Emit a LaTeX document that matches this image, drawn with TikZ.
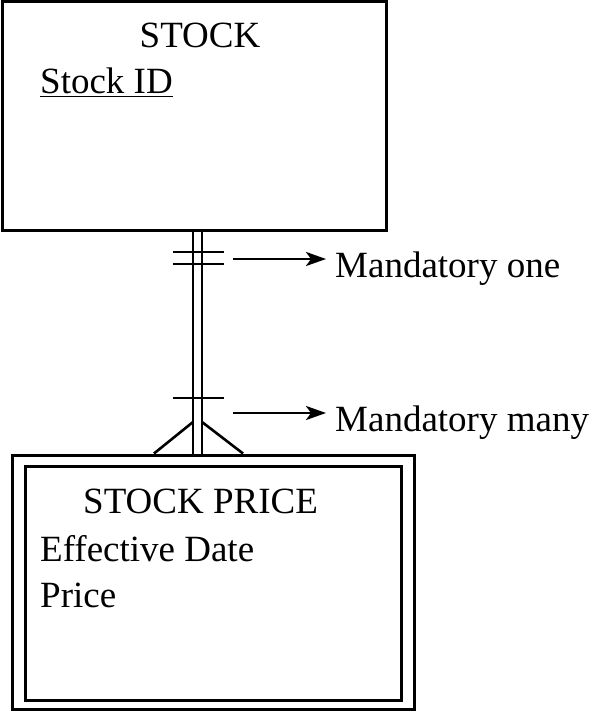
\documentclass[tikz,border=0pt]{standalone}
\usepackage{fontspec}
\setmainfont{Liberation Serif}
\usetikzlibrary{arrows.meta,calc}

\begin{document}
\begin{tikzpicture}[x=1pt,y=-1pt,
  entity/.style={draw, line width=3pt, rectangle, inner sep=0pt},
  label/.style={inner sep=0pt, font=\fontsize{37}{41}\selectfont},
  link/.style={draw, line width=2.6pt, double, double distance=6.4pt},
  tick/.style={draw, line width=2.6pt},
  note/.style={draw, line width=2.6pt, -{Stealth[length=20pt,width=14pt,inset=5pt]}}]

  \useasboundingbox (0,0) rectangle (590,711);

  % STOCK entity
  \node[entity, minimum width=384pt, minimum height=228pt] (stock) at (194,116) {};
  \node[label, anchor=base] (stocktitle) at (200,48) {STOCK};
  \node[label, anchor=base west] (stockid) at (40,94) {\underline{Stock ID}};

  % STOCK PRICE weak entity (double border)
  \node[entity, minimum width=402pt, minimum height=254pt] (priceout) at (213,582) {};
  \node[entity, minimum width=376pt, minimum height=234pt] (pricein) at (213,583) {};
  \node[label, anchor=base west] (pricetitle) at (83,513) {STOCK PRICE};
  \node[label, anchor=base west] (effdate) at (40,561) {Effective Date};
  \node[label, anchor=base west] (price) at (40,607) {Price};

  % relationship line
  \coordinate (ltop) at (197.5,0 |- stock.south);
  \coordinate (lbot) at (197.5,0 |- priceout.north);
  \draw[link] (ltop) -- (lbot);

  % mandatory one: two bars
  \draw[tick] (173,252) -- (224,252);
  \draw[tick] (173,264) -- (224,264);

  % mandatory many: one bar plus crow's foot
  \draw[tick] (173,398) -- (224,398);
  \coordinate (footl) at (154,0 |- priceout.north);
  \coordinate (footr) at (243,0 |- priceout.north);
  \draw[tick] (193,422) -- (footl);
  \draw[tick] (202,422) -- (footr);

  % annotations
  \node[label, anchor=base west] (mone) at (335,277) {Mandatory one};
  \node[label, anchor=base west] (mmany) at (335,431) {Mandatory many};
  \coordinate (aone) at (233,259);
  \coordinate (amany) at (233,413);
  \draw[note] (aone) -- ([xshift=-9pt]aone -| mone.west);
  \draw[note] (amany) -- ([xshift=-9pt]amany -| mmany.west);
\end{tikzpicture}
\end{document}
